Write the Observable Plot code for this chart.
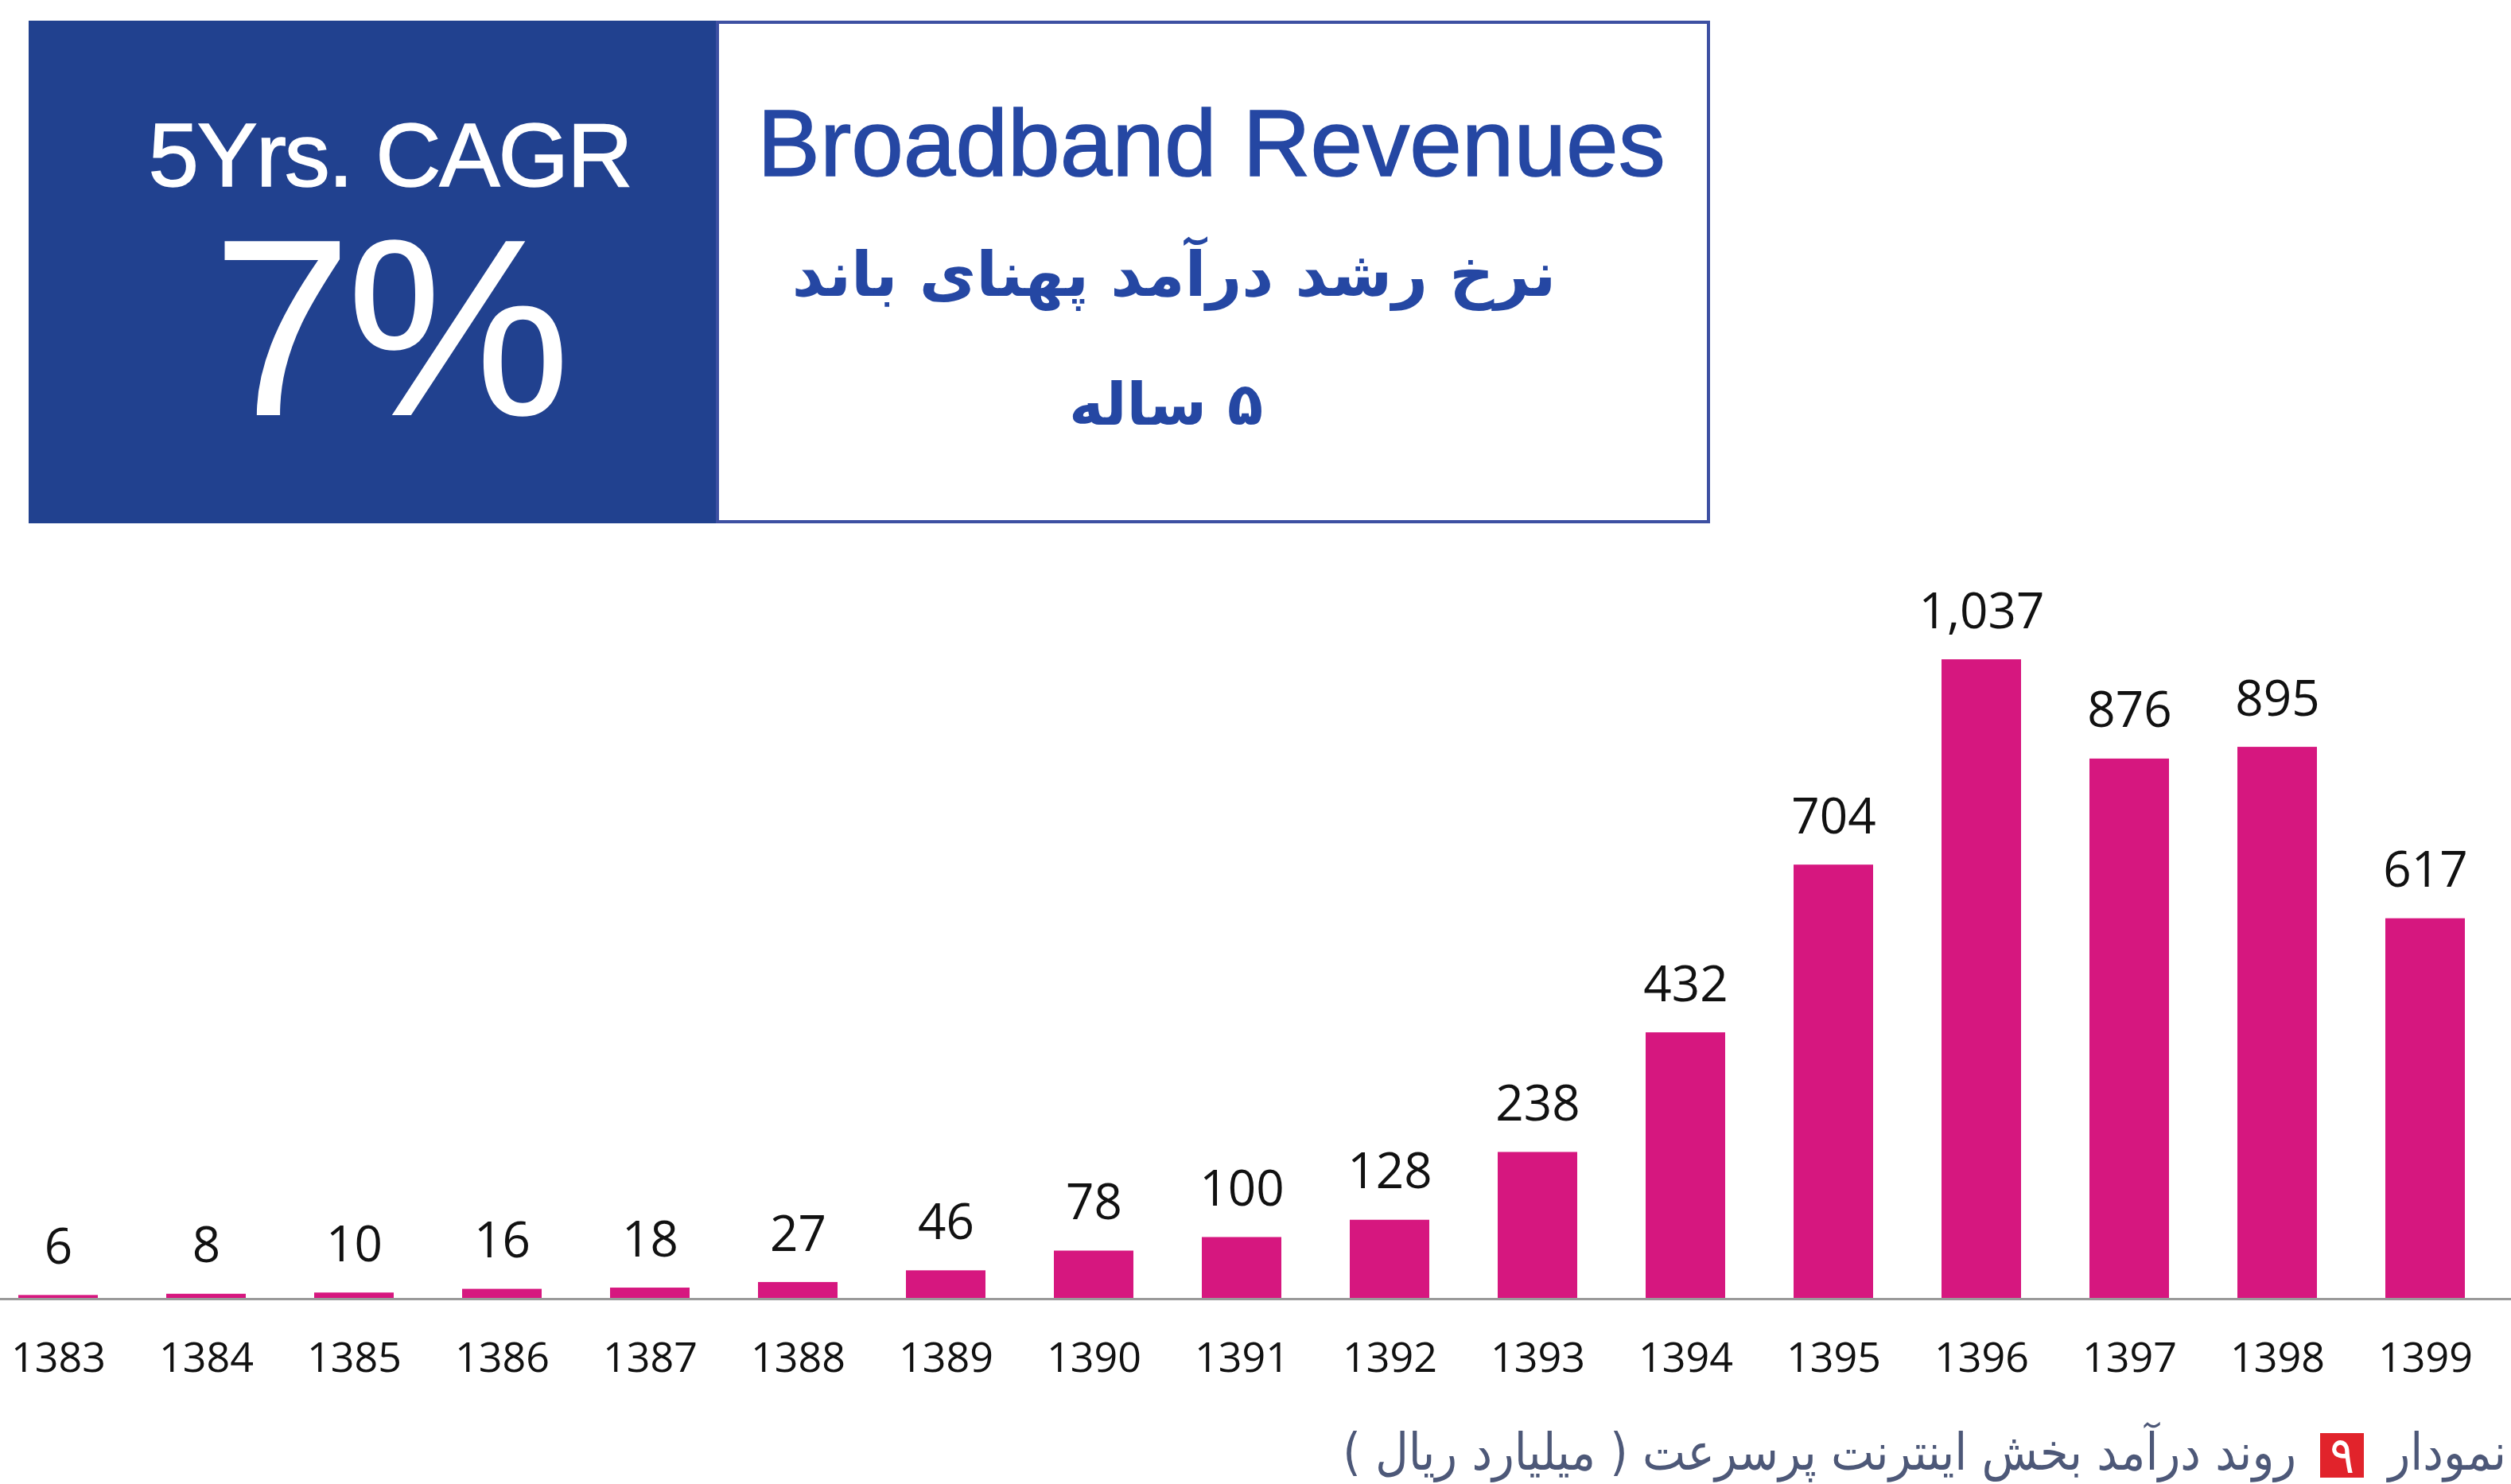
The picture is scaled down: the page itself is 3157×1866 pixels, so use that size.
<!DOCTYPE html>
<html><head><meta charset="utf-8">
<script src="https://cdn.jsdelivr.net/npm/d3@7"></script>
<script src="https://cdn.jsdelivr.net/npm/@observablehq/plot@0.6"></script>
<style>
html,body{margin:0;padding:0;background:#fff;width:3157px;height:1866px;overflow:hidden;}
#page{position:relative;width:3157px;height:1866px;background:#fff;}
#header{position:absolute;left:0;top:0;}
#chart{position:absolute;left:0;top:700px;}
#caption{position:absolute;right:6px;top:1786px;font-family:"DejaVu Sans",sans-serif;font-stretch:condensed;font-size:64px;line-height:80px;color:#4d5878;white-space:nowrap;direction:rtl;}
#caption .num{display:inline-block;background:#e1232b;color:#fff;line-height:56px;padding:0 12px;margin:0 12px;vertical-align:middle;}
</style></head><body>
<div id="page">
<svg id="header" width="2200" height="680" xmlns="http://www.w3.org/2000/svg">
  <rect x="36" y="26" width="866" height="632" fill="#21418f"/>
  <rect x="902" y="28" width="1246" height="628" fill="#fff" stroke="#3d50a2" stroke-width="4"/>
  <text x="490" y="234" text-anchor="middle" fill="#fff" stroke="#fff" stroke-width="1.5" font-family="Liberation Sans, Arial, sans-serif" font-size="114" letter-spacing="-2">5Yrs. CAGR</text>
  <text x="488" y="522" text-anchor="middle" fill="#fff" font-family="Liberation Sans, Arial, sans-serif" font-size="318" letter-spacing="-8">7%</text>
  <text x="1523" y="221" text-anchor="middle" fill="#2547a3" stroke="#2547a3" stroke-width="1.5" font-family="Liberation Sans, Arial, sans-serif" font-size="118">Broadband Revenues</text>
  <text x="1476" y="372" text-anchor="middle" direction="rtl" fill="#2547a3" font-family="DejaVu Sans, sans-serif" font-weight="bold" font-size="78">نرخ رشد درآمد پهنای باند</text>
  <text x="1466" y="534" text-anchor="middle" direction="rtl" fill="#2547a3" font-family="DejaVu Sans, sans-serif" font-weight="bold" font-size="74">۵ ساله</text>
</svg>
<div id="chart"></div>
<div id="caption">نمودار <span class="num">۹</span> روند درآمد بخش اینترنت پرسرعت ( میلیارد ریال )</div>
</div>
<script>
const years = ["1383","1384","1385","1386","1387","1388","1389","1390","1391","1392","1393","1394","1395","1396","1397","1398","1399"];
const revenues = [6,8,10,16,18,27,46,78,100,128,238,432,704,1037,876,895,617];
const valueLabels = ["6","8","10","16","18","27","46","78","100","128","238","432","704","1,037","876","895","617"];

const data = years.map((y,i)=>({year:y, value:revenues[i], label:valueLabels[i]}));

const chart = Plot.plot({
  width: 3157,
  height: 1043,
  marginTop: 129,
  marginBottom: 110,
  marginLeft: 0,
  marginRight: 0,
  style: {fontFamily: "Open Sans, sans-serif", background: "transparent", color: "#111"},
  x: {domain: years, paddingInner: 0.46, paddingOuter: 0.203, align: 0.287, label: null},
  y: {domain: [0, 1037], axis: null},
  marks: [
    Plot.barY(data, {x: "year", y: "value", fill: "#d6177f"}),
    Plot.ruleY([0], {stroke: "#9a9a9a", strokeWidth: 3}),
    Plot.text(data, {x: "year", y: "value", text: "label", dy: -40, lineAnchor: "bottom", fontSize: 62, fill: "#111"}),
    Plot.axisX({tickSize: 0, tickPadding: 55, fontSize: 52, fill: "#111", label: null})
  ]
});
document.getElementById("chart").appendChild(chart);
</script>
</body></html>
